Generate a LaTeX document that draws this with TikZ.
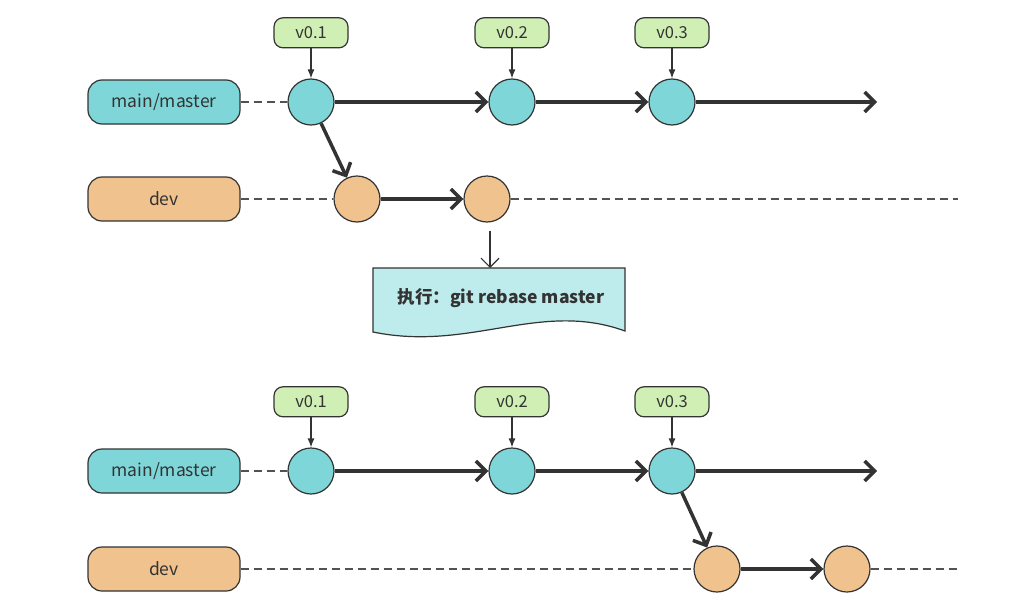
\documentclass[tikz,border=0pt]{standalone}
\usepackage{fontspec}
\setmainfont{Noto Sans CJK SC}
\usetikzlibrary{arrows.meta, calc, positioning}
\definecolor{GitCyan}{HTML}{7ED6D9}
\definecolor{GitOrange}{HTML}{F0C28E}
\definecolor{GitGreen}{HTML}{D0EFB4}
\definecolor{GitNote}{HTML}{BEEBEC}
\definecolor{GitLine}{HTML}{333333}

\begin{document}
\begin{tikzpicture}[x = 1pt, y = -1pt]%
    %
    \useasboundingbox (0, 0) rectangle (1026, 608);%
    %
    \tikzstyle{branch} = [rectangle, rounded corners = 14pt, minimum width = 152pt, minimum height = 44pt, draw = GitLine, line width = 1.2pt, text = GitLine, font = \fontsize{17.5}{20}\selectfont]%
    \tikzstyle{commit} = [circle, minimum size = 46pt, inner sep = 0pt, draw = GitLine, line width = 1.2pt]%
    \tikzstyle{tag} = [rectangle, rounded corners = 9pt, minimum width = 74pt, minimum height = 30pt, fill = GitGreen, draw = GitLine, line width = 1.2pt, text = GitLine, font = \fontsize{16.5}{18}\selectfont]%
    \tikzstyle{tagarrow} = [-{Latex[length = 9pt, width = 7pt]}, line width = 1.2pt, draw = GitLine]%
    \tikzstyle{commitarrow} = [-{Straight Barb[length = 10pt, width = 20pt]}, line width = 3.5pt, draw = GitLine]%
    \tikzstyle{notearrow} = [-{Straight Barb[length = 9pt, width = 18pt]}, line width = 1.2pt, draw = GitLine]%
    \tikzstyle{dashedline} = [draw = GitLine!85, dash pattern = on 8pt off 5pt, line width = 1.2pt]%
    %
    \def\mainrow#1#2{% Syntax: {y of the main row}{name prefix}
        \node [branch, fill = GitCyan] (#2main) at (164, #1) {main/master};%
        \foreach \x/\v [count = \i] in {311/0.1, 512/0.2, 672/0.3} {%
            \node [commit, fill = GitCyan] (#2c\i) at (\x, #1) {};%
            \node [tag, above = 30pt of #2c\i] (#2t\i) {v\v};%
            \draw [tagarrow] (#2t\i) -- (#2c\i);%
        }%
        \coordinate (#2end) at (877, #1);%
        \draw [dashedline] (#2main) -- (#2c1);%
        \draw [commitarrow] (#2c1) -- (#2c2);%
        \draw [commitarrow] (#2c2) -- (#2c3);%
        \draw [commitarrow] (#2c3) -- (#2end);%
    }%
    %
    % before the rebase
    \mainrow{102}{A}%
    \node [branch, fill = GitOrange] (Adev) at (164, 199) {dev};%
    \node [commit, fill = GitOrange] (Ad1) at (357, 199) {};%
    \node [commit, fill = GitOrange] (Ad2) at (487, 199) {};%
    \coordinate (Adevend) at (958, 199);%
    \draw [dashedline] (Adev) -- (Ad1);%
    \draw [dashedline] (Ad2) -- (Adevend);%
    \draw [commitarrow] (Ad1) -- (Ad2);%
    \draw [commitarrow] (Ac1) -- (Ad1);%
    %
    % the command
    \draw [fill = GitNote, draw = GitLine, line width = 1.2pt] (373, 268) -- (625, 268) -- (625, 331) .. controls (540, 300) and (470, 352) .. (373, 332) -- cycle;%
    \node [text = GitLine, font = \fontsize{17.5}{20}\selectfont\bfseries] (note) at (501, 298) {执行：git rebase master};%
    \coordinate (notetop) at (490, 268);%
    \draw [notearrow, shorten <= 8pt] (Ad2.south -| notetop) -- (notetop);%
    %
    % after the rebase
    \mainrow{471}{B}%
    \node [branch, fill = GitOrange] (Bdev) at (164, 569) {dev};%
    \node [commit, fill = GitOrange] (Bd1) at (717, 569) {};%
    \node [commit, fill = GitOrange] (Bd2) at (847, 569) {};%
    \coordinate (Bdevend) at (958, 569);%
    \draw [dashedline] (Bdev) -- (Bd1);%
    \draw [dashedline] (Bd2) -- (Bdevend);%
    \draw [commitarrow] (Bd1) -- (Bd2);%
    \draw [commitarrow] (Bc3) -- (Bd1);%
\end{tikzpicture}
\end{document}
